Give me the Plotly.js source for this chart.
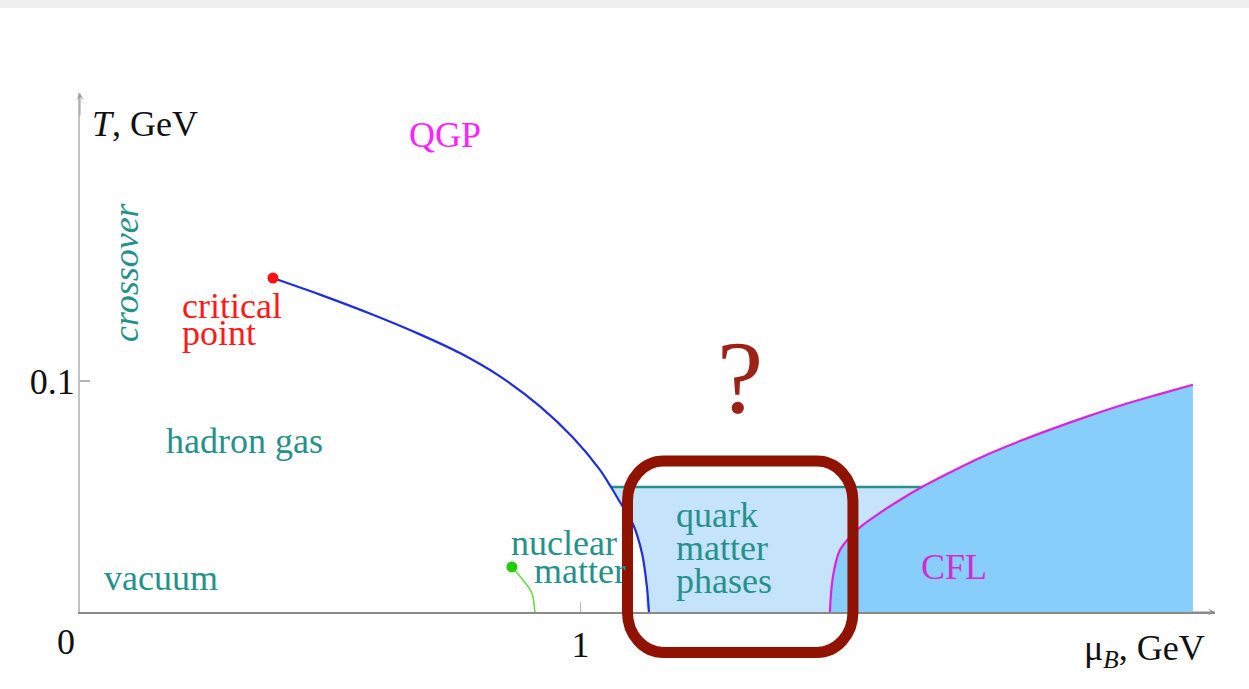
<!DOCTYPE html>
<html>
<head>
<meta charset="utf-8">
<script src="https://cdn.plot.ly/plotly-3.0.1.min.js"></script>
<style>
  html, body { margin: 0; padding: 0; background: #fff; }
  #wrap { position: relative; width: 1249px; height: 689px; }
  #band { position: absolute; left: 0; top: 0; width: 1249px; height: 8px; background: #efefef; z-index: 5; }
  #chart { width: 1249px; height: 689px; }
</style>
</head>
<body>
<div id="wrap">
  <div id="band"></div>
  <div id="chart"></div>
</div>
<script>
// Axis extents (mu_B in GeV, T in GeV)
const muRange = [0, 2.268];
const tRange = [0, 0.2247];

// First-order line from the critical point down to T = 0
const firstOrderMu = [0.3856, 0.4795, 0.5854, 0.6793, 0.7592, 0.8392, 0.9191, 0.9850, 1.0390, 1.0610, 1.0789, 1.1049, 1.1229, 1.1329, 1.1369];
const firstOrderT  = [0.1446, 0.1374, 0.1287, 0.1202, 0.1121, 0.1020, 0.0890, 0.0755, 0.0615, 0.0541, 0.0476, 0.0381, 0.0255, 0.0108, 0];

// CFL boundary
const cflMu = [1.4985, 1.5005, 1.5045, 1.5105, 1.5185, 1.5385, 1.5644, 1.5984, 1.6384, 1.6823, 1.7483, 1.8122, 1.8781, 1.9441, 2.0120, 2.0779, 2.1499, 2.2238];
const cflT  = [0, 0.0074, 0.0152, 0.0217, 0.0268, 0.0325, 0.0377, 0.0429, 0.0485, 0.0541, 0.0615, 0.0681, 0.0740, 0.0794, 0.0846, 0.0893, 0.0939, 0.0984];

// Nuclear liquid-gas line
const nuclearMu = [0.863, 0.885, 0.903, 0.909];
const nuclearT  = [0.0195, 0.0139, 0.0082, 0];

// Upper edge of the quark matter region
const qmCeiling = 0.0541;

// Critical points
const critMu = [0.3856];
const critT = [0.1446];
const nucCritMu = [0.863];
const nucCritT = [0.0195];

// Highlight box around the quark matter region (data units)
const boxMu = [1.094, 1.5445];
const boxT = [-0.01753, 0.06537];
const boxRadius = [0.072, 0.0173];

// Tick labels
const xTicks = [1];
const xTickText = ['1'];
const yTicks = [0.1];
const yTickText = ['0.1'];

const SERIF = '"Liberation Serif", "Times New Roman", serif';
const TEAL = '#26918c';
const FS = 36;

// Quark matter fill: first-order line below the ceiling, then across to the CFL edge
const qmMu = [], qmT = [];
firstOrderMu.forEach((m, i) => { if (firstOrderT[i] <= qmCeiling) { qmMu.push(m); qmT.push(firstOrderT[i]); } });
const cflTop = cflMu[cflT.indexOf(qmCeiling)];
qmMu.push(cflTop, cflTop);
qmT.push(0, qmCeiling);

const ceilMu = [qmMu[0], cflTop];
const ceilT = [qmCeiling, qmCeiling];

const traces = [
  { x: qmMu, y: qmT, mode: 'lines', fill: 'toself', fillcolor: '#c5e4fb',
    line: { width: 0, shape: 'spline', smoothing: 0.8 }, hoverinfo: 'skip' },
  { x: cflMu, y: cflT, mode: 'lines', fill: 'tozeroy', fillcolor: '#88cefa',
    line: { width: 0, shape: 'spline', smoothing: 1 }, hoverinfo: 'skip' },
  { x: ceilMu, y: ceilT, mode: 'lines', line: { color: '#2a8f8a', width: 2.5 } },
  { x: firstOrderMu, y: firstOrderT, mode: 'lines', line: { color: '#1f2ed8', width: 2.2, shape: 'spline', smoothing: 0.8 } },
  { x: cflMu, y: cflT, mode: 'lines', line: { color: '#dd22dd', width: 2.2, shape: 'spline', smoothing: 1 } },
  { x: nuclearMu, y: nuclearT, mode: 'lines', line: { color: '#66dd44', width: 1.6, shape: 'spline', smoothing: 0.8 } },
  { x: critMu, y: critT, mode: 'markers', marker: { color: '#ff1111', size: 11 } },
  { x: nucCritMu, y: nucCritT, mode: 'markers', marker: { color: '#22cc00', size: 11 } }
];

const px = v => (v - muRange[0]) / (muRange[1] - muRange[0]);
const py = v => (v - tRange[0]) / (tRange[1] - tRange[0]);

function roundedBox(mu, t, r) {
  const k = 0.5523;
  const L = px(mu[0]), R = px(mu[1]), B = py(t[0]), T = py(t[1]);
  const rx = px(r[0]) - px(0), ry = py(r[1]) - py(0);
  return `M${L + rx},${T} L${R - rx},${T} ` +
    `C${R - rx + k * rx},${T} ${R},${T - ry + k * ry} ${R},${T - ry} ` +
    `L${R},${B + ry} C${R},${B + ry - k * ry} ${R - rx + k * rx},${B} ${R - rx},${B} ` +
    `L${L + rx},${B} C${L + rx - k * rx},${B} ${L},${B + ry - k * ry} ${L},${B + ry} ` +
    `L${L},${T - ry} C${L},${T - ry + k * ry} ${L + rx - k * rx},${T} ${L + rx},${T} Z`;
}

function label(text, x, y, color, opts) {
  return Object.assign({
    text: text, x: x, y: y, xref: 'x', yref: 'y', showarrow: false,
    xanchor: 'left', yanchor: 'middle',
    font: { family: SERIF, size: FS, color: color }
  }, opts || {});
}

const annotations = [
  label('<i>T</i>, GeV', 0.020, 0.2113, '#111'),
  label('QGP', 0.653, 0.2065, '#ff22ff'),
  label('<i>crossover</i>', 0.093, 0.1470, TEAL, { textangle: -90, xanchor: 'center' }),
  label('critical', 0.1998, 0.1325, '#ff1a1a'),
  label('point', 0.1998, 0.1208, '#ff1a1a'),
  label('hadron gas', 0.1678, 0.0740, TEAL),
  label('vacuum', 0.044, 0.0147, TEAL),
  label('nuclear', 0.857, 0.0299, TEAL),
  label('matter', 0.903, 0.0178, TEAL),
  label('quark', 1.1868, 0.0420, TEAL),
  label('matter', 1.1868, 0.0277, TEAL),
  label('phases', 1.1868, 0.0134, TEAL),
  label('CFL', 1.6763, 0.0195, '#d42ad4'),
  label('?', 1.319, 0.1017, '#9c2216', { xanchor: 'center', font: { family: SERIF, size: 104, color: '#9c2216' } }),
  // origin label and horizontal axis title sit outside the plotting area
  { text: '0', xref: 'paper', yref: 'paper', x: px(-0.028), y: py(-0.0132), showarrow: false,
    xanchor: 'center', yanchor: 'middle', font: { family: SERIF, size: FS, color: '#111' } },
  { text: 'μ<sub><i>B</i></sub>, GeV', xref: 'paper', yref: 'paper', x: px(2.003), y: py(-0.0165), showarrow: false,
    xanchor: 'left', yanchor: 'middle', font: { family: SERIF, size: FS, color: '#111' } },
  // axis arrowheads
  { x: muRange[1], y: 0, xref: 'x', yref: 'y', ax: -24, ay: 0, text: '', showarrow: true,
    arrowhead: 3, arrowsize: 1.2, arrowwidth: 1, arrowcolor: '#8a8a8a', standoff: 0 },
  { x: 0, y: tRange[1], xref: 'x', yref: 'y', ax: 0, ay: 24, text: '', showarrow: true,
    arrowhead: 3, arrowsize: 1.2, arrowwidth: 1, arrowcolor: '#9a9a9a', standoff: 0 }
];

const layout = {
  width: 1249, height: 689,
  margin: { l: 80, r: 34, t: 93, b: 77 },
  paper_bgcolor: '#ffffff', plot_bgcolor: '#ffffff',
  showlegend: false,
  hovermode: false,
  xaxis: {
    range: muRange, showgrid: false, zeroline: false,
    showline: true, linecolor: '#8a8a8a', linewidth: 1.5,
    tickvals: xTicks, ticktext: xTickText, ticks: 'inside', ticklen: 10, tickwidth: 1.2, tickcolor: '#b5b5b5',
    tickfont: { family: SERIF, size: FS, color: '#111' }, ticklabelstandoff: 0
  },
  yaxis: {
    range: tRange, showgrid: false, zeroline: false,
    showline: true, linecolor: '#c2c2c2', linewidth: 2,
    tickvals: yTicks, ticktext: yTickText, ticks: 'inside', ticklen: 10, tickwidth: 1.2, tickcolor: '#b5b5b5',
    tickfont: { family: SERIF, size: FS, color: '#111' }, ticklabelstandoff: -4
  },
  shapes: [
    { type: 'path', xref: 'paper', yref: 'paper', path: roundedBox(boxMu, boxT, boxRadius),
      line: { color: '#8f1300', width: 11 }, fillcolor: 'rgba(0,0,0,0)', layer: 'above' }
  ],
  annotations: annotations
};

Plotly.newPlot('chart', traces, layout, { staticPlot: true, displayModeBar: false });
</script>
</body>
</html>
